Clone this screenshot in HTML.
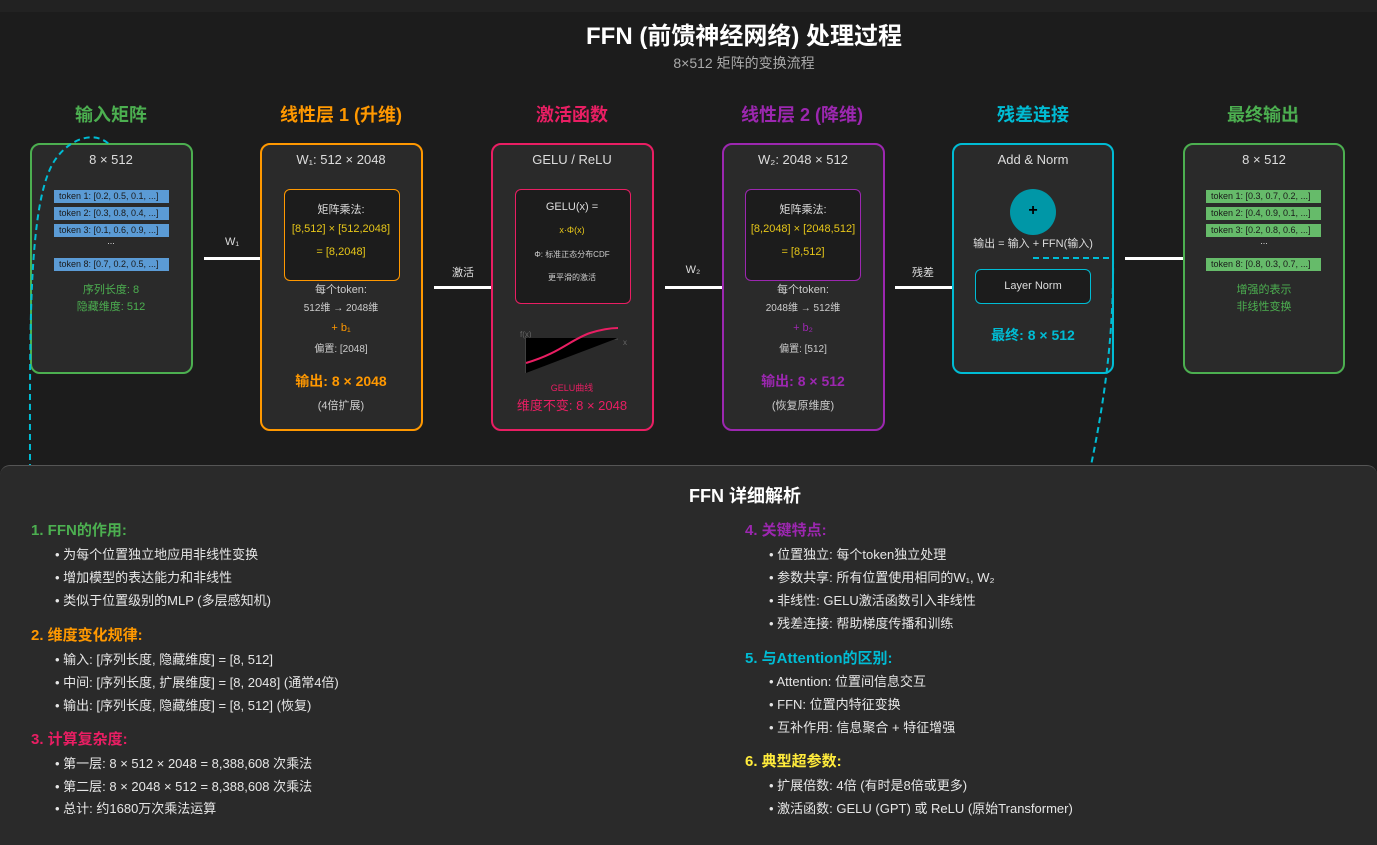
<!DOCTYPE html>
<html><head><meta charset="utf-8"><style>
*{margin:0;padding:0;box-sizing:border-box}
body{width:1377px;height:834px;background:#1c1c1c;font-family:"Liberation Sans","Noto Sans CJK SC",sans-serif;color:#ddd;position:relative;overflow:hidden}
.a{position:absolute}
.c{position:absolute;text-align:center;white-space:nowrap;transform:translateX(-50%)}
.box{position:absolute;border:2px solid;border-radius:10px;background:#2a2a2a}
.inner{position:absolute;border:1.5px solid;border-radius:6px;background:#1c1c1c}
.h{font-size:18px;font-weight:bold}
.tok{position:absolute;height:13px;font-size:9px;line-height:13px;color:#1a1a1a;padding-left:5px;white-space:nowrap}
.line{position:absolute;height:3px;background:#fff}
.lbl{font-size:11px;color:#ddd}
.panel{position:absolute;left:0;top:465px;width:1377px;height:380px;background:#2a2a2a;border-top:1.5px solid #555;border-radius:10px 10px 0 0}
.sh{position:absolute;font-size:15px;font-weight:bold;white-space:nowrap}
.bl{position:absolute;font-size:13px;color:#e6e6e6;white-space:nowrap}
</style></head><body>
<div class="a" style="left:0;top:0;width:1377px;height:12px;background:#222"></div>
<div class="c" style="left:744px;top:16px;font-size:24px;font-weight:bold;color:#fff">FFN (前馈神经网络) 处理过程</div>
<div class="c" style="left:744px;top:53px;font-size:14px;color:#aaa">8×512 矩阵的变换流程</div>

<div class="c h" style="left:111px;top:101px;color:#4caf50">输入矩阵</div>
<div class="c h" style="left:341px;top:101px;color:#ff9800">线性层 1 (升维)</div>
<div class="c h" style="left:572px;top:101px;color:#e91e63">激活函数</div>
<div class="c h" style="left:802px;top:101px;color:#9c27b0">线性层 2 (降维)</div>
<div class="c h" style="left:1033px;top:101px;color:#00bcd4">残差连接</div>
<div class="c h" style="left:1263px;top:101px;color:#4caf50">最终输出</div>

<!-- box1 -->
<div class="box" style="left:30px;top:143px;width:163px;height:231px;border-color:#4caf50"></div>
<div class="c" style="left:111px;top:152px;font-size:13px">8 × 512</div>
<div class="tok" style="left:54px;top:190px;width:115px;background:#5b9bd5">token 1: [0.2, 0.5, 0.1, ...]</div>
<div class="tok" style="left:54px;top:207px;width:115px;background:#5b9bd5">token 2: [0.3, 0.8, 0.4, ...]</div>
<div class="tok" style="left:54px;top:224px;width:115px;background:#5b9bd5">token 3: [0.1, 0.6, 0.9, ...]</div>
<div class="c" style="left:111px;top:236px;font-size:9px">...</div>
<div class="tok" style="left:54px;top:258px;width:115px;background:#5b9bd5">token 8: [0.7, 0.2, 0.5, ...]</div>
<div class="c" style="left:111px;top:281px;font-size:11px;color:#4caf50">序列长度: 8</div>
<div class="c" style="left:111px;top:298px;font-size:11px;color:#4caf50">隐藏维度: 512</div>

<div class="line" style="left:204px;top:257px;width:57px"></div>
<div class="c lbl" style="left:232px;top:236px">W₁</div>

<!-- box2 -->
<div class="box" style="left:260px;top:143px;width:163px;height:288px;border-color:#ff9800"></div>
<div class="c" style="left:341px;top:152px;font-size:13px">W₁: 512 × 2048</div>
<div class="inner" style="left:284px;top:189px;width:116px;height:92px;border-color:#ff9800"></div>
<div class="c" style="left:341px;top:201px;font-size:11px">矩阵乘法:</div>
<div class="c" style="left:341px;top:223px;font-size:11px;color:#e6c619">[8,512] × [512,2048]</div>
<div class="c" style="left:341px;top:246px;font-size:11px;color:#e6c619">= [8,2048]</div>
<div class="c" style="left:341px;top:281px;font-size:11px;color:#ccc">每个token:</div>
<div class="c" style="left:341px;top:299px;font-size:10px;color:#ccc">512维 → 2048维</div>
<div class="c" style="left:341px;top:322px;font-size:11px;color:#ff9800">+ b₁</div>
<div class="c" style="left:341px;top:340px;font-size:10px;color:#ccc">偏置: [2048]</div>
<div class="c" style="left:341px;top:371px;font-size:14px;font-weight:bold;color:#ff9800">输出: 8 × 2048</div>
<div class="c" style="left:341px;top:397px;font-size:11px;color:#ccc">(4倍扩展)</div>

<div class="line" style="left:434px;top:286px;width:57px"></div>
<div class="c lbl" style="left:463px;top:264px">激活</div>

<!-- box3 -->
<div class="box" style="left:491px;top:143px;width:163px;height:288px;border-color:#e91e63"></div>
<div class="c" style="left:572px;top:152px;font-size:13px">GELU / ReLU</div>
<div class="inner" style="left:515px;top:189px;width:116px;height:115px;border-color:#e91e63"></div>
<div class="c" style="left:572px;top:201px;font-size:11px">GELU(x) =</div>
<div class="c" style="left:572px;top:225px;font-size:9px;color:#e6c619">x·Φ(x)</div>
<div class="c" style="left:572px;top:249px;font-size:8px;color:#ccc">Φ: 标准正态分布CDF</div>
<div class="c" style="left:572px;top:272px;font-size:8px;color:#ccc">更平滑的激活</div>
<svg class="a" style="left:515px;top:325px" width="120" height="52">
<text x="5" y="12" font-size="8" fill="#666" font-family="Liberation Sans">f(x)</text>
<text x="108" y="20" font-size="8" fill="#666" font-family="Liberation Sans">x</text>
<path d="M11 12 V48" stroke="#555" stroke-width="1"/>
<path d="M11 14 H103" stroke="#555" stroke-width="1"/>
<path d="M11 13 L103 13 L11 48 Z" fill="#000"/>
<path d="M11 38 C45 28 55 15 75 8 C88 4 95 3 103 3" stroke="#e91e63" stroke-width="2" fill="none"/>
</svg>
<div class="c" style="left:572px;top:381px;font-size:9px;color:#e91e63">GELU曲线</div>
<div class="c" style="left:572px;top:395px;font-size:13px;color:#e91e63">维度不变: 8 × 2048</div>

<div class="line" style="left:665px;top:286px;width:57px"></div>
<div class="c lbl" style="left:693px;top:264px">W₂</div>

<!-- box4 -->
<div class="box" style="left:722px;top:143px;width:163px;height:288px;border-color:#9c27b0"></div>
<div class="c" style="left:803px;top:152px;font-size:13px">W₂: 2048 × 512</div>
<div class="inner" style="left:745px;top:189px;width:116px;height:92px;border-color:#9c27b0"></div>
<div class="c" style="left:803px;top:201px;font-size:11px">矩阵乘法:</div>
<div class="c" style="left:803px;top:223px;font-size:11px;color:#e6c619">[8,2048] × [2048,512]</div>
<div class="c" style="left:803px;top:246px;font-size:11px;color:#e6c619">= [8,512]</div>
<div class="c" style="left:803px;top:281px;font-size:11px;color:#ccc">每个token:</div>
<div class="c" style="left:803px;top:299px;font-size:10px;color:#ccc">2048维 → 512维</div>
<div class="c" style="left:803px;top:322px;font-size:11px;color:#9c27b0">+ b₂</div>
<div class="c" style="left:803px;top:340px;font-size:10px;color:#ccc">偏置: [512]</div>
<div class="c" style="left:803px;top:371px;font-size:14px;font-weight:bold;color:#9c27b0">输出: 8 × 512</div>
<div class="c" style="left:803px;top:397px;font-size:11px;color:#ccc">(恢复原维度)</div>

<div class="line" style="left:895px;top:286px;width:57px"></div>
<div class="c lbl" style="left:923px;top:264px">残差</div>

<!-- box5 -->
<div class="box" style="left:952px;top:143px;width:162px;height:231px;border-color:#00bcd4"></div>
<div class="c" style="left:1033px;top:152px;font-size:13px">Add &amp; Norm</div>
<div class="a" style="left:1010px;top:189px;width:46px;height:46px;border-radius:50%;background:#0097a7;color:#000;font-weight:bold;font-size:16px;text-align:center;line-height:44px">+</div>
<div class="c" style="left:1033px;top:235px;font-size:11px">输出 = 输入 + FFN(输入)</div>
<div class="inner" style="left:975px;top:269px;width:116px;height:35px;border-color:#00bcd4;text-align:center;line-height:33px;font-size:11px;color:#ddd">Layer Norm</div>
<div class="c" style="left:1033px;top:325px;font-size:14px;font-weight:bold;color:#00bcd4">最终: 8 × 512</div>

<div class="line" style="left:1125px;top:257px;width:58px"></div>

<!-- box6 -->
<div class="box" style="left:1183px;top:143px;width:162px;height:231px;border-color:#4caf50"></div>
<div class="c" style="left:1264px;top:152px;font-size:13px">8 × 512</div>
<div class="tok" style="left:1206px;top:190px;width:115px;background:#66bb6a">token 1: [0.3, 0.7, 0.2, ...]</div>
<div class="tok" style="left:1206px;top:207px;width:115px;background:#66bb6a">token 2: [0.4, 0.9, 0.1, ...]</div>
<div class="tok" style="left:1206px;top:224px;width:115px;background:#66bb6a">token 3: [0.2, 0.8, 0.6, ...]</div>
<div class="c" style="left:1264px;top:236px;font-size:9px">...</div>
<div class="tok" style="left:1206px;top:258px;width:115px;background:#66bb6a">token 8: [0.8, 0.3, 0.7, ...]</div>
<div class="c" style="left:1264px;top:281px;font-size:11px;color:#4caf50">增强的表示</div>
<div class="c" style="left:1264px;top:298px;font-size:11px;color:#4caf50">非线性变换</div>

<svg class="a" style="left:0;top:0" width="1377" height="480">
<path d="M1033 258 L1113 258 C1114 330 1105 400 1090 470" stroke="#00bcd4" stroke-width="2" stroke-dasharray="6,4" fill="none"/>
<path d="M30 470 C30 330 28 200 55 160 C70 138 95 130 110 145" stroke="#00bcd4" stroke-width="2" stroke-dasharray="6,4" fill="none"/>
</svg>

<div class="panel"></div>
<div class="c" style="left:745px;top:482px;font-size:18px;font-weight:bold;color:#fff">FFN 详细解析</div>

<div class="sh" style="left:31px;top:519px;color:#4caf50">1. FFN的作用:</div>
<div class="bl" style="left:55px;top:544px">• 为每个位置独立地应用非线性变换</div>
<div class="bl" style="left:55px;top:567px">• 增加模型的表达能力和非线性</div>
<div class="bl" style="left:55px;top:590px">• 类似于位置级别的MLP (多层感知机)</div>
<div class="sh" style="left:31px;top:624px;color:#ff9800">2. 维度变化规律:</div>
<div class="bl" style="left:55px;top:649px">• 输入: [序列长度, 隐藏维度] = [8, 512]</div>
<div class="bl" style="left:55px;top:672px">• 中间: [序列长度, 扩展维度] = [8, 2048] (通常4倍)</div>
<div class="bl" style="left:55px;top:695px">• 输出: [序列长度, 隐藏维度] = [8, 512] (恢复)</div>
<div class="sh" style="left:31px;top:728px;color:#e91e63">3. 计算复杂度:</div>
<div class="bl" style="left:55px;top:753px">• 第一层: 8 × 512 × 2048 = 8,388,608 次乘法</div>
<div class="bl" style="left:55px;top:776px">• 第二层: 8 × 2048 × 512 = 8,388,608 次乘法</div>
<div class="bl" style="left:55px;top:798px">• 总计: 约1680万次乘法运算</div>

<div class="sh" style="left:745px;top:519px;color:#9c27b0">4. 关键特点:</div>
<div class="bl" style="left:769px;top:544px">• 位置独立: 每个token独立处理</div>
<div class="bl" style="left:769px;top:567px">• 参数共享: 所有位置使用相同的W₁, W₂</div>
<div class="bl" style="left:769px;top:590px">• 非线性: GELU激活函数引入非线性</div>
<div class="bl" style="left:769px;top:613px">• 残差连接: 帮助梯度传播和训练</div>
<div class="sh" style="left:745px;top:647px;color:#00bcd4">5. 与Attention的区别:</div>
<div class="bl" style="left:769px;top:671px">• Attention: 位置间信息交互</div>
<div class="bl" style="left:769px;top:694px">• FFN: 位置内特征变换</div>
<div class="bl" style="left:769px;top:717px">• 互补作用: 信息聚合 + 特征增强</div>
<div class="sh" style="left:745px;top:750px;color:#ffeb3b">6. 典型超参数:</div>
<div class="bl" style="left:769px;top:775px">• 扩展倍数: 4倍 (有时是8倍或更多)</div>
<div class="bl" style="left:769px;top:798px">• 激活函数: GELU (GPT) 或 ReLU (原始Transformer)</div>
</body></html>
